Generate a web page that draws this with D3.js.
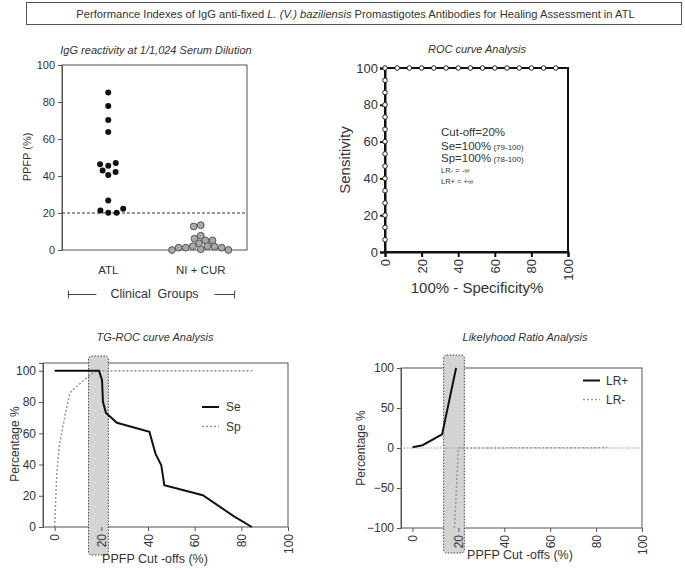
<!DOCTYPE html>
<html><head><meta charset="utf-8">
<script src="https://cdn.jsdelivr.net/npm/d3@7"></script>
<style>
html,body{margin:0;padding:0;background:#fff;}
svg{display:block;font-family:"Liberation Sans",Arial,sans-serif;}
</style></head>
<body><svg id="c" width="685" height="570"></svg>
<script>
// ---------------- data ----------------
const groups = ["ATL", "NI + CUR"];
const atlValues = [85.2, 77.8, 70.3, 63.8, 45.5, 46.3, 47, 40.5, 43, 42.1, 26.8, 20.2, 21.4, 20.2, 22.3];
const nicurValues = [13.4, 12.7, 7.7, 6.1, 5.2, 5.2, 3.6, 2.1, 2, 1.8, 1.25, 1.25, 1.25, 0.4, 0, 0];
const cutoff = 20;
const panel1Ticks = [0, 20, 40, 60, 80, 100];

const rocX = [0,0,0,0,0,0,0,0,0,0,0,0,0,0,0, 6.67,13.33,20,26.67,33.33,40,46.67,53.33,60,66.67,73.33,80,86.67,93.33];
const rocY = [6.67,13.33,20,26.67,33.33,40,46.67,53.33,60,66.67,73.33,80,86.67,93.33,100, 100,100,100,100,100,100,100,100,100,100,100,100,100,100];
const rocTicks = [0, 20, 40, 60, 80, 100];
const rocNotes = ["Cut-off=20%", "Se=100%", "Sp=100%", "LR- = -\u221e", "LR+ = +\u221e"];
const rocCI = ["", "(79-100)", "(78-100)", "", ""];

const seX = [0, 19, 20.3, 20.7, 22, 26.7, 40.6, 43.2, 45.7, 47, 63.5, 76.7, 84.5];
const seY = [100, 100, 94, 80, 73, 66.7, 61, 47, 39.5, 26.7, 20.3, 7, 0];
const spX = [0, 0.5, 1, 2, 3, 4.5, 6.5, 11, 15, 18, 85];
const spY = [0, 20, 36, 52, 60, 72, 86, 92, 97, 100, 100];
const tgShade = [14.5, 23];
const tgTicksY = [0, 20, 40, 60, 80, 100];
const cutTicksX = [0, 20, 40, 60, 80, 100];

const lrPosX = [0, 4.4, 12.9, 19];
const lrPosY = [1, 3.5, 17, 100];
const lrNegX = [18.3, 19.2, 20, 85];
const lrNegY = [-100, -50, 0, 0.5];
const lrShade = [13.6, 22.6];
const lrTicksY = [-100, -50, 0, 50, 100];

// ---------------- drawing ----------------
const svg = d3.select("#c");
svg.append("rect").attr("width", 685).attr("height", 570).attr("fill", "#fff");
const TXT = "#333", AX = "#555";

function styleAxis(g, size, color, width) {
  g.selectAll("path.domain").attr("stroke", color).attr("stroke-width", width);
  g.selectAll(".tick line").attr("stroke", color).attr("stroke-width", width);
  g.selectAll(".tick text").attr("fill", TXT).attr("font-size", size)
    .attr("font-family", '"Liberation Sans",Arial,sans-serif');
}
function rotateX(g) {
  g.selectAll(".tick text").attr("transform", "rotate(-90)")
    .attr("text-anchor", "end").attr("x", -7).attr("y", 0).attr("dy", "0.35em");
}
function title(x, y, t) {
  svg.append("text").attr("x", x).attr("y", y).attr("text-anchor", "middle")
    .attr("font-size", 11).attr("font-style", "italic").attr("fill", TXT).text(t);
}
function ylabel(x, y, t, size) {
  svg.append("text").attr("transform", `translate(${x},${y}) rotate(-90)`)
    .attr("text-anchor", "middle").attr("font-size", size).attr("fill", TXT).text(t);
}

// main title
svg.append("rect").attr("x", 26.5).attr("y", 2.5).attr("width", 655).attr("height", 22)
  .attr("fill", "none").attr("stroke", AX).attr("stroke-width", 1);
const mt = svg.append("text").attr("x", 355.5).attr("y", 18).attr("text-anchor", "middle")
  .attr("font-size", 11.5).attr("fill", TXT);
mt.append("tspan").text("Performance Indexes of IgG anti-fixed ");
mt.append("tspan").attr("font-style", "italic").text("L. (V.) baziliensis");
mt.append("tspan").text(" Promastigotes Antibodies for Healing Assessment in ATL");
{
  const w = mt.node().getComputedTextLength();
  mt.attr("font-size", 11.5 * 559 / w);
}

// beeswarm dodge (elliptical collision)
function dodge(values, ys, cx, Dx, Dy) {
  const placed = [];
  for (const v of values) {
    const y = ys(v);
    const cands = [0];
    for (const p of placed) {
      const dy = Math.abs(p.y - y);
      if (dy < Dy) {
        const dx = Dx * Math.sqrt(1 - (dy / Dy) ** 2);
        cands.push(p.dx - dx, p.dx + dx);
      }
    }
    cands.sort((a, b) => Math.abs(a) - Math.abs(b) || a - b);
    const ok = cands.find(c => placed.every(p =>
      ((p.dx - c) / Dx) ** 2 + ((p.y - y) / Dy) ** 2 >= 0.999));
    placed.push({ v, y, dx: ok });
  }
  return placed.map(p => ({ x: cx + p.dx, y: p.y }));
}

// ---------- Panel 1 ----------
{
  const L = 62, R = 247, T = 65, B = 250;
  const x = d3.scalePoint().domain(groups).range([L, R]).padding(0.5);
  const y = d3.scaleLinear().domain([0, 100]).range([B, T]);
  svg.append("rect").attr("x", L).attr("y", T).attr("width", R - L).attr("height", B - T)
    .attr("fill", "none").attr("stroke", AX);
  const ga = svg.append("g").attr("transform", `translate(${L},0)`)
    .call(d3.axisLeft(y).tickValues(panel1Ticks).tickSize(4).tickPadding(3));
  styleAxis(ga, 11, AX, 1);
  svg.append("line").attr("x1", L).attr("x2", R).attr("y1", y(cutoff)).attr("y2", y(cutoff))
    .attr("stroke", "#333").attr("stroke-dasharray", "3,2");
  const atl = dodge(atlValues, y, x(groups[0]), 8.4, 6.2);
  svg.append("g").selectAll("circle").data(atl).join("circle")
    .attr("cx", d => d.x).attr("cy", d => d.y).attr("r", 3).attr("fill", "#111");
  const ni = dodge(nicurValues, y, x(groups[1]), 7.2, 6);
  svg.append("g").selectAll("circle").data(ni).join("circle")
    .attr("cx", d => d.x).attr("cy", d => d.y).attr("r", 3.4)
    .attr("fill", "#a9a9a9").attr("stroke", "#555").attr("stroke-width", 1);
  svg.append("g").selectAll("text").data(groups).join("text")
    .attr("x", d => x(d)).attr("y", 274).attr("text-anchor", "middle")
    .attr("font-size", 11.5).attr("fill", TXT).text(d => d);
  const cg = svg.append("text").attr("x", (L + R) / 2).attr("y", 298).attr("text-anchor", "middle")
    .attr("font-size", 12.5).attr("fill", TXT).attr("xml:space", "preserve").text("Clinical  Groups");
  const bb = cg.node().getBBox();
  const by = 294.5;
  const br = svg.append("g").attr("stroke", "#444").attr("stroke-width", 1);
  br.append("line").attr("x1", bb.x - 42).attr("x2", bb.x - 14).attr("y1", by).attr("y2", by);
  br.append("line").attr("x1", bb.x - 42).attr("x2", bb.x - 42).attr("y1", by - 4).attr("y2", by + 4);
  br.append("line").attr("x1", bb.x + bb.width + 16).attr("x2", bb.x + bb.width + 36).attr("y1", by).attr("y2", by);
  br.append("line").attr("x1", bb.x + bb.width + 36).attr("x2", bb.x + bb.width + 36).attr("y1", by - 4).attr("y2", by + 4);
  title(156, 54, "IgG reactivity at 1/1,024 Serum Dilution");
  ylabel(31, 157, "PPFP (%)", 11);
}

// ---------- Panel 2 (ROC) ----------
{
  const L = 385, R = 568, T = 68, B = 252;
  const x = d3.scaleLinear().domain([0, 100]).range([L, R]);
  const y = d3.scaleLinear().domain([0, 100]).range([B, T]);
  svg.append("rect").attr("x", L).attr("y", T).attr("width", R - L).attr("height", B - T)
    .attr("fill", "none").attr("stroke", "#111").attr("stroke-width", 2);
  const gl = svg.append("g").attr("transform", `translate(${L},0)`)
    .call(d3.axisLeft(y).tickValues(rocTicks).tickSize(5).tickPadding(2));
  styleAxis(gl, 13, "#111", 2);
  const gb = svg.append("g").attr("transform", `translate(0,${B})`)
    .call(d3.axisBottom(x).tickValues(rocTicks).tickSize(5));
  styleAxis(gb, 13, "#111", 2);
  rotateX(gb);
  const pts = rocX.map((v, i) => [v, rocY[i]]);
  svg.append("path").datum(pts).attr("fill", "none").attr("stroke", "#111").attr("stroke-width", 2)
    .attr("d", d3.line().x(d => x(d[0])).y(d => y(d[1])));
  svg.append("g").selectAll("circle").data(pts).join("circle")
    .attr("cx", d => x(d[0])).attr("cy", d => y(d[1])).attr("r", 2.3)
    .attr("fill", "#fff").attr("stroke", "#222").attr("stroke-width", 1);
  const ny = [136, 150, 162, 173, 184];
  const ns = [11.5, 11.5, 11.5, 7.5, 7.5];
  rocNotes.forEach((t, i) => {
    const tx = svg.append("text").attr("x", 441).attr("y", ny[i]).attr("font-size", ns[i]).attr("fill", TXT);
    tx.append("tspan").text(t);
    if (rocCI[i]) tx.append("tspan").attr("font-size", 8).text(" " + rocCI[i]);
  });
  title(477, 53, "ROC curve Analysis");
  ylabel(350, 160, "Sensitivity", 15);
  svg.append("text").attr("x", 477).attr("y", 293).attr("text-anchor", "middle")
    .attr("font-size", 15).attr("fill", TXT).text("100% - Specificity%");
}

// ---------- Panel 3 (TG-ROC) ----------
{
  const L = 43, R = 288, T = 363, B = 527;
  const x = d3.scaleLinear().domain([-5, 100]).range([L, R]);
  const y = d3.scaleLinear().domain([0, 105]).range([B, T]);
  svg.append("rect").attr("x", L).attr("y", T).attr("width", R - L).attr("height", B - T)
    .attr("fill", "none").attr("stroke", AX);
  svg.append("rect").attr("x", x(tgShade[0])).attr("width", x(tgShade[1]) - x(tgShade[0]))
    .attr("y", T - 7).attr("height", B - T + 35).attr("rx", 3)
    .attr("fill", "#d4d4d4").attr("stroke", "#444").attr("stroke-dasharray", "1.5,1.5");
  const gl = svg.append("g").attr("transform", `translate(${L},0)`)
    .call(d3.axisLeft(y).tickValues(tgTicksY).tickSize(4).tickPadding(3));
  styleAxis(gl, 12, AX, 1);
  const gb = svg.append("g").attr("transform", `translate(0,${B})`)
    .call(d3.axisBottom(x).tickValues(cutTicksX).tickSize(4));
  styleAxis(gb, 12, AX, 1);
  gb.select("path.domain").remove();
  rotateX(gb);
  const line = d3.line().x(d => x(d[0])).y(d => y(d[1]));
  svg.append("path").datum(spX.map((v, i) => [v, spY[i]])).attr("fill", "none")
    .attr("stroke", "#999").attr("stroke-width", 1.5).attr("stroke-dasharray", "2,2").attr("d", line);
  svg.append("path").datum(seX.map((v, i) => [v, seY[i]])).attr("fill", "none")
    .attr("stroke", "#111").attr("stroke-width", 2).attr("d", line);
  // legend
  svg.append("line").attr("x1", 202).attr("x2", 219).attr("y1", 407).attr("y2", 407)
    .attr("stroke", "#111").attr("stroke-width", 2);
  svg.append("line").attr("x1", 202).attr("x2", 219).attr("y1", 426.5).attr("y2", 426.5)
    .attr("stroke", "#999").attr("stroke-width", 1.5).attr("stroke-dasharray", "2,2");
  svg.append("text").attr("x", 226).attr("y", 411).attr("font-size", 12).attr("fill", TXT).text("Se");
  svg.append("text").attr("x", 226).attr("y", 431).attr("font-size", 12).attr("fill", TXT).text("Sp");
  title(155, 341, "TG-ROC curve Analysis");
  ylabel(19, 444, "Percentage %", 12);
  svg.append("text").attr("x", 155).attr("y", 563).attr("text-anchor", "middle")
    .attr("font-size", 12.5).attr("fill", TXT).text("PPFP Cut -offs (%)");
}

// ---------- Panel 4 (LR) ----------
{
  const L = 401, R = 642, T = 368, B = 528;
  const x = d3.scaleLinear().domain([-5, 100]).range([L, R]);
  const y = d3.scaleLinear().domain([-100, 100]).range([B, T]);
  svg.append("rect").attr("x", L).attr("y", T).attr("width", R - L).attr("height", B - T)
    .attr("fill", "none").attr("stroke", AX);
  svg.append("rect").attr("x", x(lrShade[0])).attr("width", x(lrShade[1]) - x(lrShade[0]))
    .attr("y", T - 13).attr("height", B - T + 38).attr("rx", 3)
    .attr("fill", "#d4d4d4").attr("stroke", "#444").attr("stroke-dasharray", "1.5,1.5");
  const gl = svg.append("g").attr("transform", `translate(${L},0)`)
    .call(d3.axisLeft(y).tickValues(lrTicksY).tickSize(4).tickPadding(3));
  styleAxis(gl, 12, AX, 1);
  const gb = svg.append("g").attr("transform", `translate(0,${B})`)
    .call(d3.axisBottom(x).tickValues(cutTicksX).tickSize(4));
  styleAxis(gb, 12, AX, 1);
  gb.select("path.domain").remove();
  rotateX(gb);
  svg.append("line").attr("x1", L).attr("x2", R).attr("y1", y(0)).attr("y2", y(0))
    .attr("stroke", "#999").attr("stroke-width", 1).attr("stroke-dasharray", "1.5,1.5");
  const line = d3.line().x(d => x(d[0])).y(d => y(d[1]));
  svg.append("path").datum(lrNegX.map((v, i) => [v, lrNegY[i]])).attr("fill", "none")
    .attr("stroke", "#999").attr("stroke-width", 1.5).attr("stroke-dasharray", "2,2").attr("d", line);
  svg.append("path").datum(lrPosX.map((v, i) => [v, lrPosY[i]])).attr("fill", "none")
    .attr("stroke", "#111").attr("stroke-width", 2).attr("d", line);
  svg.append("line").attr("x1", 583).attr("x2", 600).attr("y1", 380.5).attr("y2", 380.5)
    .attr("stroke", "#111").attr("stroke-width", 2);
  svg.append("line").attr("x1", 583).attr("x2", 600).attr("y1", 399.5).attr("y2", 399.5)
    .attr("stroke", "#999").attr("stroke-width", 1.5).attr("stroke-dasharray", "2,2");
  svg.append("text").attr("x", 606).attr("y", 384.5).attr("font-size", 12).attr("fill", TXT).text("LR+");
  svg.append("text").attr("x", 606).attr("y", 403.5).attr("font-size", 12).attr("fill", TXT).text("LR-");
  title(525, 341, "Likelyhood Ratio Analysis");
  ylabel(365, 448, "Percentage %", 12);
  svg.append("text").attr("x", 520).attr("y", 559).attr("text-anchor", "middle")
    .attr("font-size", 12.5).attr("fill", TXT).text("PPFP Cut -offs (%)");
}
</script>
</body></html>
